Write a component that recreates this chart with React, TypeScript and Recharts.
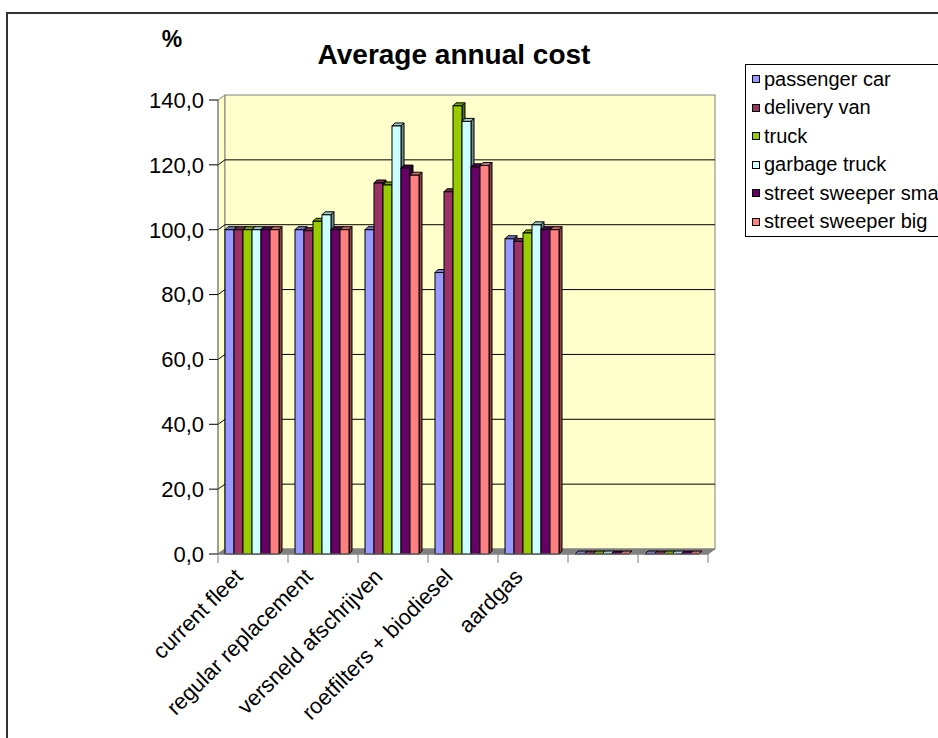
import { Bar, BarChart, Legend, ReferenceArea, ReferenceLine, XAxis, YAxis } from "recharts";

const CATEGORIES = [
  "current fleet",
  "regular replacement",
  "versneld afschrijven",
  "roetfilters + biodiesel",
  "aardgas",
  "",
  "",
];
const PASSENGER_CAR = [100, 100, 100, 86.8, 97.2, 0, 0];
const DELIVERY_VAN = [100, 99.7, 114.4, 111.7, 96.4, 0, 0];
const TRUCK = [100, 102.6, 113.8, 138.2, 99.0, 0, 0];
const GARBAGE_TRUCK = [100, 104.6, 132.0, 133.4, 101.5, 0, 0];
const SWEEPER_SMALL = [100, 100, 119.0, 119.4, 100, 0, 0];
const SWEEPER_BIG = [100, 100, 116.8, 119.8, 100, 0, 0];
const Y_TICKS = [0, 20, 40, 60, 80, 100, 120, 140];
const GRID_VALUES = [20, 40, 60, 80, 100, 120];

const SERIES = [
  { key: "car", name: "passenger car", color: "#9999FF", values: PASSENGER_CAR },
  { key: "van", name: "delivery van", color: "#993366", values: DELIVERY_VAN },
  { key: "truck", name: "truck", color: "#99CC00", values: TRUCK },
  { key: "garbage", name: "garbage truck", color: "#CCFFFF", values: GARBAGE_TRUCK },
  { key: "small", name: "street sweeper small", color: "#660066", values: SWEEPER_SMALL },
  { key: "big", name: "street sweeper big", color: "#FF8080", values: SWEEPER_BIG },
];

const data = CATEGORIES.map((name, i) => {
  const row: Record<string, string | number> = { name };
  SERIES.forEach((s) => (row[s.key] = s.values[i]));
  return row;
});

const FONT = "'Liberation Sans', Arial, sans-serif";
// depth of the back wall and of each bar
const DX = 7;
const DY = 5;
const BD = 3;

function shade(hex: string, f: number) {
  const n = parseInt(hex.slice(1), 16);
  const r = Math.round(((n >> 16) & 255) * f);
  const g = Math.round(((n >> 8) & 255) * f);
  const b = Math.round((n & 255) * f);
  return `rgb(${r},${g},${b})`;
}

function Bar3D(props: any) {
  const { x, y, width, height, fill } = props;
  if (x == null || y == null) return null;
  const r = x + width;
  const b = y + height;
  return (
    <g stroke="#000" strokeWidth={1}>
      <path d={`M${x},${y} L${x + BD},${y - BD} L${r + BD},${y - BD} L${r},${y} Z`} fill={shade(fill, 0.8)} />
      <path d={`M${r},${y} L${r + BD},${y - BD} L${r + BD},${b - BD} L${r},${b} Z`} fill={shade(fill, 0.55)} />
      <rect x={x} y={y} width={width} height={height} fill={fill} />
    </g>
  );
}

function Walls(props: any) {
  const { x, y, width, height } = props;
  const b = y + height;
  return (
    <g>
      <path d={`M${x},${y} L${x + DX},${y - DY} L${x + DX},${b - DY} L${x},${b} Z`} fill="#FFFFCC" stroke="#808080" />
      <rect x={x + DX} y={y - DY} width={width} height={height} fill="#FFFFCC" stroke="#808080" />
      <path
        d={`M${x},${b} L${x + DX},${b - DY} L${x + width + DX},${b - DY} L${x + width},${b} Z`}
        fill="#808080"
        stroke="#808080"
      />
    </g>
  );
}

function GridShape(p: any) {
  const x1 = Math.min(p.x1, p.x2);
  const x2 = Math.max(p.x1, p.x2);
  return <path d={`M${x1},${p.y1} L${x1 + DX},${p.y1 - DY} L${x2 + DX},${p.y2 - DY}`} fill="none" stroke="#000" />;
}

function CategoryTick(props: any) {
  const { x, y, payload, index } = props;
  const half = payload?.offset || 35;
  const tx = x - 9;
  const ty = y + 24;
  return (
    <g>
      <line x1={x - half} y1={y} x2={x - half} y2={y + 9} stroke="#808080" />
      {index === CATEGORIES.length - 1 && <line x1={x + half} y1={y} x2={x + half} y2={y + 9} stroke="#808080" />}
      <text
        x={tx}
        y={ty}
        transform={`rotate(-45, ${tx}, ${ty})`}
        textAnchor="end"
        fontSize={22}
        fontFamily={FONT}
        fill="#000"
      >
        {payload.value}
      </text>
    </g>
  );
}

function LegendBox() {
  return (
    <div
      style={{
        width: 200,
        height: 173,
        border: "1px solid #000",
        background: "#fff",
        boxSizing: "border-box",
        paddingLeft: 6,
        fontFamily: FONT,
        fontSize: 20,
        color: "#000",
      }}
    >
      {SERIES.map((s) => (
        <div key={s.key} style={{ height: 28.5, display: "flex", alignItems: "center", whiteSpace: "nowrap" }}>
          <span
            style={{
              width: 8,
              height: 8,
              background: s.color,
              border: "1px solid #000",
              boxSizing: "border-box",
              marginRight: 4,
              flex: "none",
            }}
          />
          <span>{s.name}</span>
        </div>
      ))}
    </div>
  );
}

export default function App() {
  return (
    <div
      style={{
        position: "absolute",
        left: 0,
        top: 0,
        width: 938,
        height: 738,
        overflow: "hidden",
        background: "#fff",
        fontFamily: FONT,
      }}
    >
      <div
        style={{
          position: "absolute",
          left: 6,
          top: 12,
          width: 1000,
          height: 1000,
          border: "2px solid #333",
        }}
      />
      <div
        style={{
          position: "absolute",
          left: 122,
          width: 100,
          top: 25,
          lineHeight: "28px",
          textAlign: "center",
          fontWeight: "bold",
          fontSize: 23,
        }}
      >
        %
      </div>
      <div
        style={{
          position: "absolute",
          left: 0,
          width: 908,
          top: 39,
          lineHeight: "32px",
          textAlign: "center",
          fontWeight: "bold",
          fontSize: 28,
        }}
      >
        Average annual cost
      </div>
      <div style={{ position: "absolute", left: 0, top: 0 }}>
        <BarChart
          width={938}
          height={738}
          data={data}
          margin={{ top: 100, right: 230, bottom: 154, left: 148 }}
          barCategoryGap="10%"
          barGap={0}
        >
          <ReferenceArea y1={0} y2={140} shape={Walls} ifOverflow="visible" zIndex={-60} />
          {GRID_VALUES.map((v) => (
            <ReferenceLine key={v} y={v} shape={GridShape} zIndex={-55} />
          ))}
          <XAxis
            dataKey="name"
            interval={0}
            height={30}
            tickSize={0}
            tickMargin={0}
            tickLine={false}
            axisLine={{ stroke: "#808080" }}
            tick={<CategoryTick />}
          />
          <YAxis
            width={70}
            domain={[0, 140]}
            ticks={Y_TICKS}
            tickSize={9}
            tickMargin={5}
            axisLine={{ stroke: "#808080" }}
            tickLine={{ stroke: "#000" }}
            tick={{ fontSize: 22, fill: "#000", fontFamily: FONT }}
            tickFormatter={(v: number) => v.toFixed(1).replace(".", ",")}
          />
          <Legend
            layout="horizontal"
            verticalAlign="middle"
            align="center"
            wrapperStyle={{ left: 745, top: 64, width: 200, height: 173 }}
            content={() => <LegendBox />}
          />
          {SERIES.map((s) => (
            <Bar key={s.key} dataKey={s.key} name={s.name} fill={s.color} shape={Bar3D} isAnimationActive={false} />
          ))}
        </BarChart>
      </div>
    </div>
  );
}
